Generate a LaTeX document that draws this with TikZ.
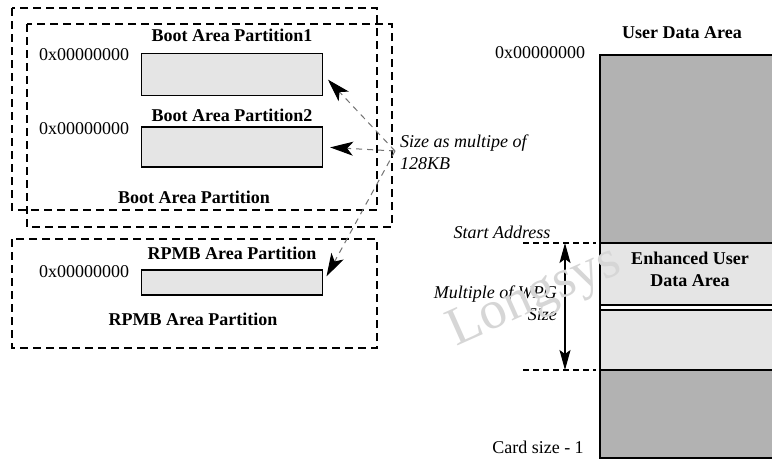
\documentclass[tikz,border=0pt]{standalone}
\usepackage{fontspec}
\setmainfont{Liberation Serif}
\usetikzlibrary{arrows.meta}

\begin{document}
\begin{tikzpicture}[x=1pt,y=-1pt,
    every node/.style={inner sep=0pt,font=\fontsize{18}{22}\selectfont},
    title/.style={font=\fontsize{18}{22}\selectfont\bfseries},
    note/.style={font=\fontsize{18}{22}\selectfont\itshape,align=left},
    frame/.style={draw,line width=1.3pt,dash pattern=on 8pt off 5pt},
    part/.style={draw,line width=1.3pt,fill=black!10,minimum width=181pt,minimum height=42pt},
    link/.style={draw=black!55,line width=1pt,dash pattern=on 6pt off 5pt,
      -{Stealth[length=23pt,width=14pt,inset=6pt,color=black,fill=black]},shorten >=7pt},
    span/.style={line width=1.2pt,{Stealth[length=20pt,width=11pt,inset=4pt]}-{Stealth[length=20pt,width=11pt,inset=4pt]}}]
  \clip (0,0) rectangle (772,461);
  \fill[white] (0,0) rectangle (772,461);

  % boot area partitions
  \draw[frame] (12,8) rectangle (377,210);
  \draw[frame] (27,24) rectangle (392,227);
  \draw
    (232,35) node[title] (t1){Boot Area Partition1}
    (232,74.5) node[part] (p1){}
    (84,55) node (a1){0x00000000}
    (232,115) node[title] (t2){Boot Area Partition2}
    (232,147) node[part,minimum height=40pt] (p2){}
    (84,129) node (a2){0x00000000}
    (194,197) node[title] (tb){Boot Area Partition};

  % rpmb partition
  \draw[frame] (12,239) rectangle (377,348);
  \draw
    (232,253) node[title] (t3){RPMB Area Partition}
    (232,282.5) node[part,minimum height=25pt] (p3){}
    (84,272) node (a3){0x00000000}
    (193,319) node[title] (tr){RPMB Area Partition};

  % size note
  \coordinate (hub) at (395,151);
  \node[note,anchor=west] (size) at (400,152.5) {Size as multipe of\\128KB};
  \begin{scope}
    \draw[link] (hub) to (p1.east);
    \draw[link] (hub) to (p2.east);
    \draw[link] (hub) to (p3.east);
  \end{scope}

  % user data area
  \fill[black!30] (600,55) rectangle (790,458);
  \fill[black!10] (600,243) rectangle (790,370);
  \fill[white] (600,305) rectangle (790,310);
  \draw[line width=1.3pt] (790,55) -- (600,55) -- (600,458) -- (790,458);
  \draw[line width=1.3pt] (600,243) -- (790,243);
  \draw[line width=1.3pt] (600,305) -- (790,305);
  \draw[line width=1.3pt] (600,310) -- (790,310);
  \draw[line width=1.3pt] (600,370) -- (790,370);
  \draw
    (682,33) node[title] (tu){User Data Area}
    (540,53) node (a4){0x00000000}
    (690,269) node[title,align=center] (te){Enhanced User\\Data Area}
    (538,447) node (cs){Card size - 1}
    (502,232) node[note] (st){Start Address};

  % wpg span
  \coordinate (s1) at (523,243);
  \coordinate (s2) at (596,243);
  \coordinate (e1) at (523,370);
  \coordinate (e2) at (596,370);
  \coordinate (sa) at (565,243);
  \coordinate (se) at (565,370);
  \draw[line width=1.2pt,dash pattern=on 6pt off 4pt] (s1) -- (s2);
  \draw[line width=1.2pt,dash pattern=on 6pt off 4pt] (e1) -- (e2);
  \draw[span] (sa) -- (se);
  \node[note,align=right,anchor=east] (wpg) at (557,303) {Multiple of WPG\\Size};

  % watermark
  \node[font=\fontsize{54}{54}\selectfont,text=black!16,rotate=24] (mark) at (535,298) {Longsys};
\end{tikzpicture}
\end{document}
